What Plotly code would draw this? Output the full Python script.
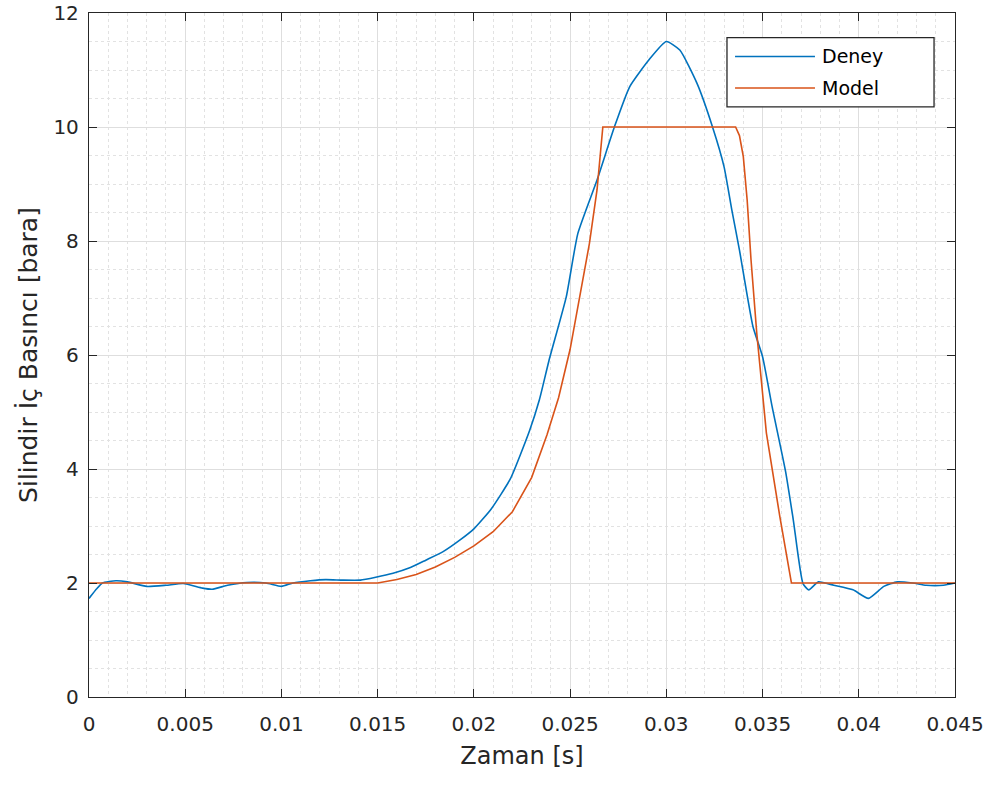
import plotly.graph_objects as go

# Measured cylinder pressure (Deney) vs. simulated pressure (Model)
t_deney = [0.0000, 0.0004, 0.0007, 0.0014, 0.0020, 0.0030, 0.0040, 0.0049, 0.0059, 0.0064,
           0.0072, 0.0082, 0.0092, 0.0100, 0.0106, 0.0115, 0.0123, 0.0132, 0.0141, 0.0149,
           0.0158, 0.0167, 0.0175, 0.0184, 0.0193, 0.0200, 0.0209, 0.0219, 0.0229, 0.0234,
           0.0239, 0.0248, 0.0254, 0.0264, 0.0273, 0.0281, 0.0291, 0.0300, 0.0307, 0.0316,
           0.0324, 0.0330, 0.0334, 0.0338, 0.0345, 0.0350, 0.0355, 0.0362, 0.0366, 0.0371,
           0.0374, 0.0379, 0.0387, 0.0397, 0.0405, 0.0413, 0.0420, 0.0428, 0.0435, 0.0444,
           0.0450]
p_deney = [1.73, 1.90, 2.00, 2.04, 2.02, 1.94, 1.96, 1.99, 1.91, 1.89,
           1.96, 2.01, 2.00, 1.94, 2.00, 2.04, 2.06, 2.05, 2.05, 2.10,
           2.17, 2.27, 2.40, 2.55, 2.76, 2.95, 3.30, 3.83, 4.68, 5.21,
           5.90, 7.02, 8.13, 9.07, 10.00, 10.71, 11.18, 11.50, 11.35, 10.76,
           10.00, 9.30, 8.55, 7.84, 6.50, 5.97, 5.09, 3.95, 3.10, 1.99,
           1.88, 2.02, 1.96, 1.88, 1.73, 1.94, 2.02, 2.00, 1.96, 1.96,
           2.00]

t_model = [0.0000, 0.0150, 0.0160, 0.0170, 0.0180, 0.0190, 0.0200, 0.0210, 0.0220, 0.0230,
           0.0238, 0.0244, 0.0250, 0.0255, 0.0260, 0.0264, 0.0267, 0.0336, 0.0338, 0.0340,
           0.0342, 0.0344, 0.0347, 0.0352, 0.0359, 0.0365, 0.0450]
p_model = [2.00, 2.00, 2.06, 2.15, 2.28, 2.45, 2.65, 2.90, 3.25, 3.85,
           4.60, 5.25, 6.10, 7.00, 7.95, 8.90, 10.00, 10.00, 9.85, 9.48,
           8.72, 7.67, 6.38, 4.63, 3.16, 2.00, 2.00]

x_ticks = [0, 0.005, 0.01, 0.015, 0.02, 0.025, 0.03, 0.035, 0.04, 0.045]
x_labels = ["0", "0.005", "0.01", "0.015", "0.02", "0.025", "0.03", "0.035", "0.04", "0.045"]
y_ticks = [0, 2, 4, 6, 8, 10, 12]

series_names = ["Deney", "Model"]
series_colors = ["#0072BD", "#D95319"]

FONT = "DejaVu Sans, Liberation Sans, Arial, sans-serif"
TXT = "#262626"

fig = go.Figure()
fig.add_trace(go.Scatter(x=t_deney, y=p_deney, mode="lines", name=series_names[0],
                         showlegend=False,
                         line=dict(color=series_colors[0], width=1.6, shape="spline", smoothing=0.5)))
fig.add_trace(go.Scatter(x=t_model, y=p_model, mode="lines", name=series_names[1],
                         showlegend=False,
                         line=dict(color=series_colors[1], width=1.6)))

axis_common = dict(
    showline=True, linecolor=TXT, linewidth=1.3, mirror="allticks",
    ticks="inside", ticklen=8, tickcolor=TXT, tickwidth=1.3,
    showgrid=True, gridcolor="#dedede", gridwidth=1,
    zeroline=False, automargin=False,
    tickfont=dict(family=FONT, size=20, color=TXT),
)

fig.update_xaxes(
    range=[0, 0.045], tickvals=x_ticks, ticktext=x_labels, ticklabelstandoff=9,
    title=dict(text="Zaman [s]", font=dict(family=FONT, size=24, color=TXT), standoff=12),
    minor=dict(dtick=0.001, showgrid=True, gridcolor="#e2e2e2", griddash="dot", ticks=""),
    **axis_common,
)
fig.update_yaxes(
    range=[0, 12], tickvals=y_ticks, ticklabelstandoff=5,
    title=dict(text="Silindir İç Basıncı [bara]", font=dict(family=FONT, size=25, color=TXT), standoff=8),
    minor=dict(dtick=0.5, showgrid=True, gridcolor="#e2e2e2", griddash="dot", ticks=""),
    **axis_common,
)

# Legend box drawn in paper coordinates, MATLAB-style with long line samples
box_x0, box_x1, box_y0, box_y1 = 0.7367, 0.9758, 0.8629, 0.9639
fig.add_shape(type="rect", xref="paper", yref="paper",
              x0=box_x0, x1=box_x1, y0=box_y0, y1=box_y1,
              line=dict(color=TXT, width=1.3), fillcolor="white", layer="above")
for name, color, yy in zip(series_names, series_colors, [0.9365, 0.8903]):
    fig.add_shape(type="line", xref="paper", yref="paper",
                  x0=0.746, x1=0.8383, y0=yy, y1=yy,
                  line=dict(color=color, width=1.6), layer="above")
    fig.add_annotation(xref="paper", yref="paper", x=0.8440, y=yy,
                       xanchor="left", yanchor="middle", showarrow=False,
                       text=name, font=dict(family=FONT, size=19, color="#000000"))

fig.update_layout(
    width=999, height=785,
    margin=dict(l=89, r=44, t=13, b=88),
    paper_bgcolor="white", plot_bgcolor="white",
    font=dict(family=FONT, color=TXT),
    showlegend=False,
)

fig.write_html("out.html")
